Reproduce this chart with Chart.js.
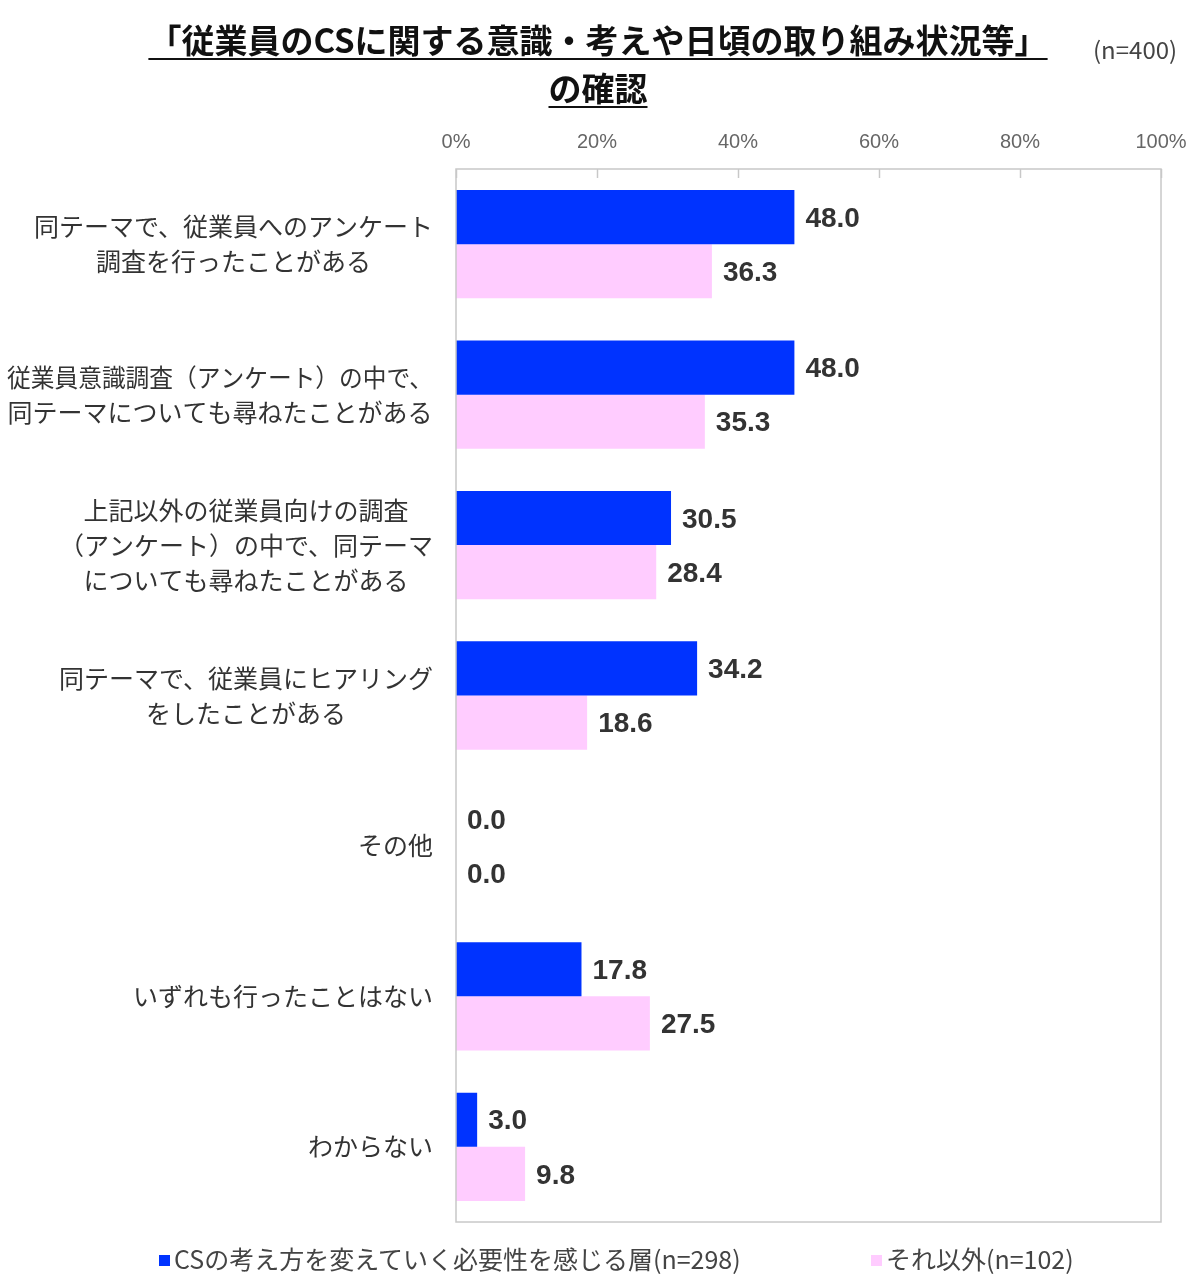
<!DOCTYPE html>
<html>
<head>
<meta charset="utf-8">
<script src="https://cdn.jsdelivr.net/npm/chart.js@4.4.0/dist/chart.umd.min.js"></script>
<style>
  body { margin: 0; background: #fff; }
  #wrap { position: relative; width: 1200px; height: 1283px; }
  #chart { position: absolute; left: 0; top: 0; }
  .title {
    position: absolute; left: 0; width: 1196px; text-align: center;
    font-family: "Noto Sans CJK JP", sans-serif; font-weight: bold;
    font-size: 33px; color: #111; line-height: 1;
  }
  .title span { text-decoration: underline; text-underline-offset: 5px; text-decoration-thickness: 2px; }
  .n { position: absolute; left: 1093px; top: 31px; font-family: "Noto Sans CJK JP", sans-serif; font-size: 24px; color: #444; }
  .legend {
    position: absolute; top: 1240px; font-family: "Noto Sans CJK JP", sans-serif;
    font-size: 25px; color: #444; white-space: nowrap; line-height: 36px;
  }
  .legend i { display: inline-block; width: 11px; height: 11px; margin-right: 4px; vertical-align: middle; position: relative; top: -2px; }
</style>
</head>
<body>
<div id="wrap">
  <canvas id="chart" width="1200" height="1283"></canvas>
  <div class="title" style="top:23px;"><span>「従業員のCSに関する意識・考えや日頃の取り組み状況等」</span></div>
  <div class="title" style="top:71px;"><span>の確認</span></div>
  <div class="n">(n=400)</div>
  <div class="legend" style="left:159px;"><i style="background:#0033ff"></i>CSの考え方を変えていく必要性を感じる層(n=298)</div>
  <div class="legend" style="left:871px;"><i style="background:#ffccff"></i>それ以外(n=102)</div>
</div>
<script>
const categories = [
  ["同テーマで、従業員へのアンケート", "調査を行ったことがある"],
  ["従業員意識調査（アンケート）の中で、", "同テーマについても尋ねたことがある"],
  ["上記以外の従業員向けの調査", "（アンケート）の中で、同テーマ", "についても尋ねたことがある"],
  ["同テーマで、従業員にヒアリング", "をしたことがある"],
  ["その他"],
  ["いずれも行ったことはない"],
  ["わからない"]
];
const seriesNames = ["CSの考え方を変えていく必要性を感じる層(n=298)", "それ以外(n=102)"];
const needChange = [48.0, 48.0, 30.5, 34.2, 0.0, 17.8, 3.0];
const others = [36.3, 35.3, 28.4, 18.6, 0.0, 27.5, 9.8];
const tickValues = [0, 20, 40, 60, 80, 100];

const PLOT_LEFT = 456;

// frame around the plot plus short inward tick marks
const framePlugin = {
  id: "frame",
  afterDatasetsDraw(chart) {
    const { ctx, chartArea: a, scales } = chart;
    ctx.save();
    ctx.strokeStyle = "#c8c8c8";
    ctx.lineWidth = 1.5;
    ctx.strokeRect(a.left, a.top, a.right - a.left, a.bottom - a.top);
    tickValues.forEach(v => {
      const x = Math.round(scales.x.getPixelForValue(v)) + 0.5;
      ctx.beginPath();
      ctx.moveTo(x, a.top);
      ctx.lineTo(x, a.top + 9);
      ctx.stroke();
    });
    ctx.restore();
  }
};

// value labels right of each bar
const valuePlugin = {
  id: "values",
  afterDatasetsDraw(chart) {
    const { ctx } = chart;
    ctx.save();
    ctx.font = "bold 28px 'Liberation Sans', Arial, sans-serif";
    ctx.fillStyle = "#333";
    ctx.textAlign = "left";
    ctx.textBaseline = "middle";
    chart.data.datasets.forEach((ds, i) => {
      chart.getDatasetMeta(i).data.forEach((bar, j) => {
        ctx.fillText(ds.data[j].toFixed(1), bar.x + 11, bar.y + 2);
      });
    });
    ctx.restore();
  }
};

// category labels: block right-aligned to the axis, lines centred in the block
const catLabelPlugin = {
  id: "catLabels",
  afterDraw(chart) {
    const { ctx, scales } = chart;
    ctx.save();
    ctx.font = "25px 'Noto Sans CJK JP', sans-serif";
    ctx.fillStyle = "#333";
    ctx.textAlign = "center";
    ctx.textBaseline = "middle";
    const lh = 35;
    const maxW = 426;
    categories.forEach((lines, i) => {
      const y = scales.y.getPixelForValue(i);
      const w = Math.min(maxW, Math.max(...lines.map(t => ctx.measureText(t).width)));
      const cx = 433 - w / 2;
      const y0 = y - (lines.length - 1) * lh / 2;
      lines.forEach((t, k) => ctx.fillText(t, cx, y0 + k * lh, maxW));
    });
    ctx.restore();
  }
};

new Chart(document.getElementById("chart"), {
  type: "bar",
  data: {
    labels: categories,
    datasets: [
      { label: seriesNames[0], data: needChange, backgroundColor: "#0033ff", borderWidth: 0 },
      { label: seriesNames[1], data: others, backgroundColor: "#ffccff", borderWidth: 0 }
    ]
  },
  options: {
    indexAxis: "y",
    responsive: false,
    animation: false,
    layout: { padding: { left: 0, top: 120, right: 39, bottom: 61 } },
    plugins: { legend: { display: false }, tooltip: { enabled: false } },
    datasets: { bar: { categoryPercentage: 0.72, barPercentage: 1.0 } },
    scales: {
      x: {
        position: "top",
        min: 0, max: 100,
        afterBuildTicks(scale) { scale.ticks = tickValues.map(v => ({ value: v })); },
        afterFit(scale) { scale.height = 49; },
        grid: { display: false },
        border: { display: false },
        ticks: {
          padding: 7,
          color: "#666",
          font: { family: "'Liberation Sans', Arial, sans-serif", size: 20 },
          callback: v => v + "%"
        }
      },
      y: {
        afterFit(scale) { scale.width = PLOT_LEFT; },
        grid: { display: false },
        border: { display: false },
        ticks: { display: false }
      }
    }
  },
  plugins: [framePlugin, valuePlugin, catLabelPlugin]
});
</script>
</body>
</html>
